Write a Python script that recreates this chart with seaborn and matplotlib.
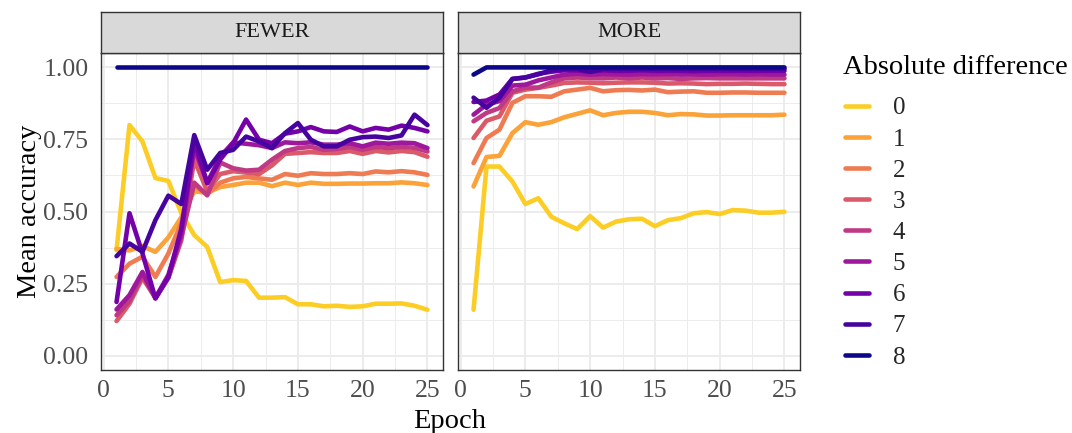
import matplotlib
matplotlib.use("Agg")

import matplotlib.pyplot as plt
import numpy as np
import pandas as pd
import seaborn as sns

# ---------------------------------------------------------------------------
# Data
# ---------------------------------------------------------------------------
EPOCHS = list(range(1, 26))
PANELS = ["FEWER", "MORE"]
DIFFS = ["0", "1", "2", "3", "4", "5", "6", "7", "8"]

fewer = {
    "0": [0.366, 0.80, 0.743, 0.616, 0.606, 0.494, 0.418, 0.377, 0.255, 0.262, 0.259, 0.201, 0.201,
          0.203, 0.178, 0.178, 0.171, 0.173, 0.169, 0.171, 0.180, 0.180, 0.181, 0.173, 0.159],
    "1": [0.37, 0.365, 0.38, 0.36, 0.41, 0.48, 0.57, 0.565, 0.585, 0.592, 0.60, 0.60, 0.588,
          0.60, 0.592, 0.60, 0.596, 0.596, 0.597, 0.597, 0.598, 0.598, 0.601, 0.598, 0.592],
    "2": [0.273, 0.319, 0.343, 0.273, 0.354, 0.46, 0.59, 0.56, 0.60, 0.615, 0.62, 0.615, 0.61,
          0.63, 0.624, 0.633, 0.63, 0.63, 0.633, 0.63, 0.639, 0.636, 0.64, 0.636, 0.627],
    "3": [0.12, 0.18, 0.27, 0.20, 0.27, 0.40, 0.68, 0.57, 0.63, 0.64, 0.635, 0.63, 0.66,
          0.70, 0.703, 0.706, 0.703, 0.703, 0.71, 0.70, 0.71, 0.705, 0.71, 0.706, 0.69],
    "4": [0.14, 0.19, 0.28, 0.20, 0.27, 0.41, 0.60, 0.556, 0.67, 0.65, 0.642, 0.645, 0.68,
          0.71, 0.72, 0.724, 0.714, 0.717, 0.724, 0.714, 0.724, 0.72, 0.724, 0.721, 0.708],
    "5": [0.16, 0.21, 0.29, 0.20, 0.28, 0.42, 0.72, 0.60, 0.69, 0.74, 0.735, 0.73, 0.72,
          0.74, 0.737, 0.74, 0.732, 0.732, 0.737, 0.726, 0.739, 0.735, 0.739, 0.737, 0.72],
    "6": [0.186, 0.494, 0.355, 0.198, 0.273, 0.44, 0.745, 0.598, 0.68, 0.737, 0.819, 0.749, 0.737,
          0.77, 0.778, 0.793, 0.778, 0.776, 0.795, 0.778, 0.79, 0.784, 0.798, 0.79, 0.778],
    "7": [0.345, 0.389, 0.36, 0.47, 0.555, 0.526, 0.765, 0.645, 0.703, 0.714, 0.76, 0.743, 0.72,
          0.772, 0.807, 0.749, 0.726, 0.726, 0.749, 0.758, 0.76, 0.755, 0.764, 0.836, 0.80],
    "8": [1.0, 1.0, 1.0, 1.0, 1.0, 1.0, 1.0, 1.0, 1.0, 1.0, 1.0, 1.0, 1.0,
          1.0, 1.0, 1.0, 1.0, 1.0, 1.0, 1.0, 1.0, 1.0, 1.0, 1.0, 1.0],
}

more = {
    "0": [0.159, 0.656, 0.656, 0.604, 0.526, 0.546, 0.482, 0.459, 0.439, 0.484, 0.444, 0.465, 0.473,
          0.475, 0.449, 0.470, 0.477, 0.494, 0.498, 0.491, 0.505, 0.503, 0.496, 0.496, 0.499],
    "1": [0.587, 0.689, 0.693, 0.772, 0.81, 0.801, 0.81, 0.827, 0.839, 0.851, 0.834, 0.842, 0.846,
          0.846, 0.842, 0.834, 0.838, 0.837, 0.833, 0.833, 0.834, 0.834, 0.834, 0.834, 0.836],
    "2": [0.668, 0.755, 0.784, 0.877, 0.90, 0.90, 0.898, 0.917, 0.923, 0.929, 0.917, 0.921, 0.922,
          0.92, 0.923, 0.914, 0.916, 0.917, 0.912, 0.912, 0.913, 0.913, 0.912, 0.912, 0.912],
    "3": [0.755, 0.815, 0.83, 0.912, 0.923, 0.929, 0.937, 0.946, 0.948, 0.947, 0.945, 0.947, 0.948,
          0.948, 0.947, 0.944, 0.945, 0.944, 0.942, 0.943, 0.943, 0.944, 0.943, 0.942, 0.942],
    "4": [0.813, 0.842, 0.859, 0.917, 0.93, 0.93, 0.948, 0.962, 0.965, 0.963, 0.962, 0.965, 0.962,
          0.965, 0.962, 0.963, 0.96, 0.962, 0.963, 0.962, 0.962, 0.962, 0.962, 0.962, 0.962],
    "5": [0.836, 0.871, 0.883, 0.937, 0.94, 0.955, 0.965, 0.975, 0.978, 0.975, 0.977, 0.976, 0.975,
          0.977, 0.976, 0.977, 0.975, 0.976, 0.975, 0.976, 0.976, 0.975, 0.976, 0.975, 0.975],
    "6": [0.88, 0.885, 0.906, 0.96, 0.965, 0.978, 0.985, 0.99, 0.99, 0.985, 0.99, 0.988, 0.988,
          0.99, 0.988, 0.988, 0.988, 0.987, 0.988, 0.988, 0.988, 0.988, 0.988, 0.988, 0.988],
    "7": [0.895, 0.86, 0.895, 0.96, 0.965, 0.976, 0.99, 0.995, 0.995, 0.985, 0.995, 0.995, 0.995,
          0.995, 0.995, 0.995, 0.995, 0.995, 0.995, 0.995, 0.995, 0.995, 0.995, 0.995, 0.995],
    "8": [0.975, 1.0, 1.0, 1.0, 1.0, 1.0, 1.0, 1.0, 1.0, 1.0, 1.0, 1.0, 1.0,
          1.0, 1.0, 1.0, 1.0, 1.0, 1.0, 1.0, 1.0, 1.0, 1.0, 1.0, 1.0],
}

X_TICKS = [0, 5, 10, 15, 20, 25]
Y_TICKS = [0.0, 0.25, 0.5, 0.75, 1.0]
Y_TICK_LABELS = ["0.00", "0.25", "0.50", "0.75", "1.00"]

# ---------------------------------------------------------------------------
# Styling (ggplot theme_bw look)
# ---------------------------------------------------------------------------
W, H = 1072, 433
BORDER = "#333333"
GRID = "#ebebeb"
TICK_TXT = "#4d4d4d"
STRIP_BG = "#d9d9d9"

sns.set_theme(style="white")
plt.rcParams["font.family"] = ["Liberation Serif", "DejaVu Serif"]

palette = [matplotlib.colors.to_hex(c) for c in plt.cm.plasma(np.linspace(0, 0.9, 9))[::-1]]

frames = []
for panel, series in zip(PANELS, [fewer, more]):
    for d in DIFFS:
        frames.append(pd.DataFrame({"panel": panel, "diff": d, "epoch": EPOCHS, "acc": series[d]}))
df = pd.concat(frames, ignore_index=True)


def fx(px):
    return px / W


def fy(py):
    return 1 - py / H


fig = plt.figure(figsize=(W / 100, H / 100), dpi=100)

panel_left = [101, 458]
panel_w = 342
top, bottom = 53, 370
strip_top = 12

axes = []
for i, panel in enumerate(PANELS):
    x0 = panel_left[i]
    ax = fig.add_axes([fx(x0), fy(bottom), panel_w / W, (bottom - top) / H])
    sub = df[df["panel"] == panel]
    sns.lineplot(data=sub, x="epoch", y="acc", hue="diff", hue_order=DIFFS,
                 palette=palette, linewidth=3.3, ax=ax, legend=(i == 0))
    ax.set_xlim(-0.2, 26.2)
    ax.set_ylim(-0.05, 1.05)
    ax.set_xticks(X_TICKS)
    ax.set_xticks([2.5, 7.5, 12.5, 17.5, 22.5], minor=True)
    ax.set_yticks(Y_TICKS)
    ax.set_yticks([0.125, 0.375, 0.625, 0.875], minor=True)
    ax.grid(which="major", color=GRID, linewidth=1.3)
    ax.grid(which="minor", color=GRID, linewidth=0.65)
    ax.set_axisbelow(True)
    for s in ax.spines.values():
        s.set_color(BORDER)
        s.set_linewidth(1.0)
    ax.tick_params(axis="both", which="major", direction="out", length=4, width=1.0,
                   color=BORDER, labelcolor=TICK_TXT, labelsize=18.5, pad=3)
    ax.tick_params(which="minor", length=0)
    ax.set_xticklabels([str(t) for t in X_TICKS])
    if i == 0:
        ax.set_yticklabels(Y_TICK_LABELS)
        ax.tick_params(axis="y", which="major", pad=5)
    else:
        ax.tick_params(axis="y", which="major", length=0, labelleft=False)
    ax.set_xlabel("")
    ax.set_ylabel("")

    # facet strip
    sax = fig.add_axes([fx(x0), fy(top), panel_w / W, (top - strip_top) / H])
    sax.set_facecolor(STRIP_BG)
    sax.set_xticks([])
    sax.set_yticks([])
    for s in sax.spines.values():
        s.set_color(BORDER)
        s.set_linewidth(1.0)
    sax.text(0.5, 0.5, panel, ha="center", va="center", fontsize=16, color="#1a1a1a",
             transform=sax.transAxes)
    axes.append(ax)

# legend moved to the figure, title drawn as its own text
handles, labels = axes[0].get_legend_handles_labels()
axes[0].get_legend().remove()
leg = fig.legend(handles, labels, loc="upper left",
                 bbox_to_anchor=(fx(840), fy(92)), frameon=False, fontsize=18,
                 handlelength=0.95, handletextpad=0.95, labelspacing=0.345,
                 borderpad=0.2, borderaxespad=0.0)
for line in leg.get_lines():
    line.set_linewidth(3.3)

fig.text(fx(843), fy(67), "Absolute difference", ha="left", va="center",
         fontsize=20.5, color="black")
fig.text(fx(30), fy((top + bottom) / 2), "Mean accuracy", rotation=90, ha="center",
         va="center", fontsize=20.5, color="black")
fig.text(fx(450), fy(422), "Epoch", ha="center", va="center", fontsize=20.5, color="black")

fig.savefig("out.png", dpi=100, facecolor="white")
